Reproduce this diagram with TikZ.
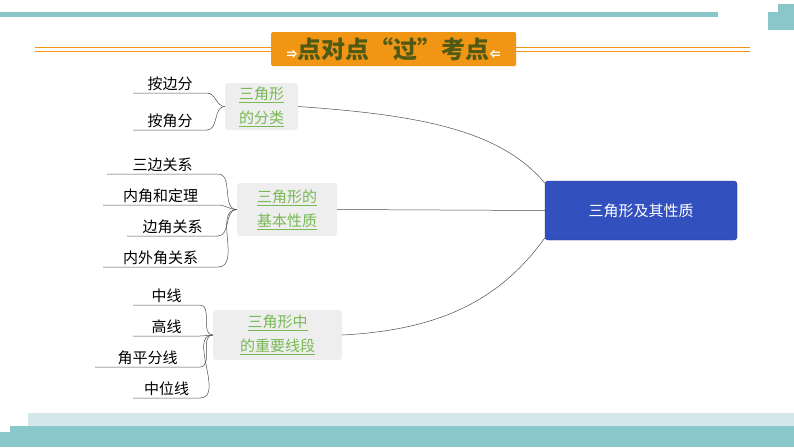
\documentclass[tikz,border=0pt]{standalone}
\usepackage{fontspec}
\setmainfont{Noto Sans CJK SC}
\begin{document}
\begin{tikzpicture}[x=1pt,y=-1pt,
  leaf/.style={font=\fontsize{15}{17}\selectfont,anchor=south,inner sep=2pt},
  grp/.style={fill=gray!13,rounded corners=3pt,align=center,text={rgb,255:red,120;green,185;blue,85},font=\fontsize{15}{24}\selectfont,inner sep=0pt},
  br/.style={draw=gray!60!black,line width=0.5pt},
  lk/.style={draw=gray!60!black,line width=0.5pt}]
\useasboundingbox (0,0) rectangle (794,447);
\definecolor{teal1}{RGB}{137,199,203}
\definecolor{teal2}{RGB}{212,232,236}
\definecolor{org}{RGB}{240,150,20}
\definecolor{olive}{RGB}{80,90,20}
\definecolor{cblue}{RGB}{50,80,190}
\fill[teal1] (0,12) rectangle (718,17);
\fill[teal1] (778,4) rectangle (794,30);
\fill[teal1] (768,12) rectangle (780,30);
\fill[teal2] (28,413) rectangle (794,426);
\fill[teal1] (10,426) rectangle (794,447);
\fill[teal1] (0,432) rectangle (10,447);
\draw[org,line width=0.8pt] (35,47.5)--(272,47.5) (35,51)--(272,51) (515,47.5)--(750,47.5) (515,51)--(750,51);
\node[fill=org,rounded corners=1.5pt,minimum width=245,minimum height=34,text=olive,font=\fontsize{24}{26}\selectfont\bfseries] (title) at (393.5,49) {\textcolor{white}{\fontsize{11}{11}\selectfont ⇒}点对点“过”考点\textcolor{white}{\fontsize{11}{11}\selectfont ⇐}};
\node[fill=cblue,draw=cblue!70!black,rounded corners=3pt,minimum width=192,minimum height=59,text=white,font=\fontsize{15}{17}\selectfont] (c) at (641,210.5) {三角形及其性质};
% group 1
\node[grp,minimum width=73,minimum height=47] (g1) at (261.5,106.5) {\underline{三角形}\\\underline{的分类}};
\coordinate (a1) at (133,93); \coordinate (a1e) at (207,93);
\coordinate (a2) at (133,130); \coordinate (a2e) at (207,130);
\node[leaf] (l11) at (170,93) {按边分};
\node[leaf] (l12) at (170,130) {按角分};
\draw[br] (a1)--(a1e) to[out=0,in=180] (g1.west);
\draw[br] (a2)--(a2e) to[out=0,in=180] (g1.west);
% group 2
\node[grp,minimum width=100,minimum height=53] (g2) at (287,209.5) {\underline{三角形的}\\\underline{基本性质}};
\foreach \n/\t/\xs/\yy in {1/三边关系/107/174,2/内角和定理/103/205,3/边角关系/127/236,4/内外角关系/103/267}{
  \coordinate (b\n) at (\xs,\yy); \coordinate (b\n e) at (218,\yy);
  \node[leaf] (l2\n) at ({(\xs+218)/2},\yy) {\t};
  \draw[br] (b\n)--(b\n e) to[out=0,in=180] (g2.west);
}
% group 3
\node[grp,minimum width=129,minimum height=50] (g3) at (277.5,335) {\underline{三角形中}\\\underline{的重要线段}};
\foreach \n/\t/\xs/\yy in {1/中线/133/305,2/高线/133/336,3/角平分线/95/367,4/中位线/133/398}{
  \coordinate (d\n) at (\xs,\yy); \coordinate (d\n e) at (200,\yy);
  \node[leaf] (l3\n) at ({(\xs+200)/2},\yy) {\t};
  \draw[br] (d\n)--(d\n e) to[out=0,in=180] (g3.west);
}
\draw[lk] (g1.east) .. controls (420,115) and (500,130) .. (c.west|-0,183);
\draw[lk] (g2.east) -- (c.west);
\draw[lk] (g3.east) .. controls (440,330) and (500,300) .. (c.west|-0,238);
\end{tikzpicture}
\end{document}
